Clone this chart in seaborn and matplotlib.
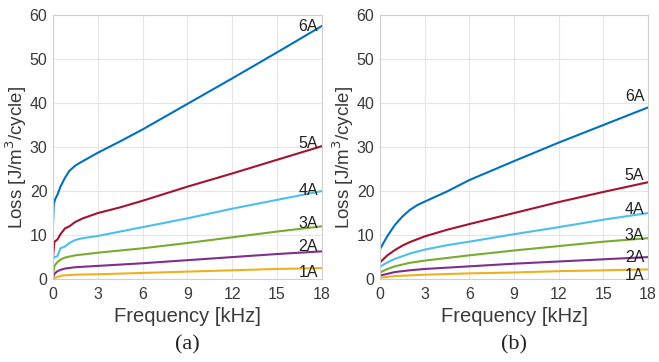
import numpy as np
import pandas as pd
import matplotlib
matplotlib.use("Agg")
import matplotlib.pyplot as plt
import seaborn as sns

# Panel (a): loss per cycle vs frequency for each current amplitude
freq_a = {
    "6A": [0, 0.05, 0.15, 0.3, 0.5, 0.8, 1.1, 1.5, 2.0, 3, 4.5, 6, 9, 12, 15, 18],
    "5A": [0, 0.1, 0.3, 0.5, 0.8, 1.1, 1.5, 2.0, 3, 4.5, 6, 9, 12, 15, 18],
    "4A": [0, 0.1, 0.3, 0.5, 0.8, 1.1, 1.5, 2.0, 3, 4.5, 6, 9, 12, 15, 18],
    "3A": [0, 0.1, 0.3, 0.5, 0.8, 1.5, 3, 6, 9, 12, 15, 18],
    "2A": [0, 0.1, 0.3, 0.5, 0.8, 1.5, 3, 6, 9, 12, 15, 18],
    "1A": [0, 0.1, 0.3, 0.6, 1.0, 1.5, 3, 6, 9, 12, 15, 18],
}
loss_a = {
    "6A": [12.5, 17.0, 18.2, 19.2, 21.0, 23.0, 24.6, 25.8, 26.8, 28.7, 31.3, 34.0, 39.8, 45.6, 51.5, 57.5],
    "5A": [5.0, 8.5, 9.0, 10.2, 11.5, 12.0, 13.0, 13.8, 15.0, 16.3, 17.8, 21.0, 24.0, 27.1, 30.2],
    "4A": [4.5, 5.0, 5.2, 7.0, 7.4, 8.2, 8.9, 9.3, 9.8, 10.8, 11.8, 13.8, 16.0, 18.0, 20.0],
    "3A": [1.0, 3.0, 3.9, 4.4, 4.9, 5.4, 6.0, 7.0, 8.2, 9.5, 10.8, 12.0],
    "2A": [0.3, 1.2, 1.8, 2.1, 2.4, 2.7, 3.0, 3.6, 4.3, 5.0, 5.7, 6.3],
    "1A": [0.0, 0.2, 0.5, 0.8, 0.9, 1.0, 1.1, 1.4, 1.7, 2.0, 2.3, 2.5],
}

# Panel (b)
freq_b = {
    "6A": [0, 0.5, 1, 1.5, 2, 2.5, 3, 4.5, 6, 9, 12, 15, 18],
    "5A": [0, 0.5, 1, 1.5, 2, 3, 4.5, 6, 9, 12, 15, 18],
    "4A": [0, 0.5, 1, 2, 3, 4.5, 6, 9, 12, 15, 18],
    "3A": [0, 0.5, 1, 2, 3, 6, 9, 12, 15, 18],
    "2A": [0, 0.5, 1, 2, 3, 6, 9, 12, 15, 18],
    "1A": [0, 1, 3, 6, 9, 12, 15, 18],
}
loss_b = {
    "6A": [6.8, 9.8, 12.3, 14.2, 15.7, 16.8, 17.6, 19.9, 22.5, 26.8, 31.0, 35.0, 39.0],
    "5A": [3.8, 5.4, 6.6, 7.6, 8.4, 9.7, 11.2, 12.5, 15.0, 17.5, 19.8, 22.0],
    "4A": [2.8, 3.8, 4.6, 5.8, 6.7, 7.7, 8.5, 10.2, 11.8, 13.5, 15.0],
    "3A": [1.5, 2.3, 2.9, 3.7, 4.2, 5.4, 6.5, 7.5, 8.5, 9.3],
    "2A": [0.8, 1.2, 1.6, 2.0, 2.3, 2.9, 3.5, 4.0, 4.5, 5.0],
    "1A": [0.3, 0.7, 1.0, 1.3, 1.5, 1.8, 2.0, 2.2],
}

currents = ["6A", "5A", "4A", "3A", "2A", "1A"]
colors = ["#0072BD", "#A2142F", "#4DBEEE", "#77AC30", "#7E2F8E", "#EDB120"]

# Label heights at the right end of each curve
label_y_a = [57.4, 30.9, 20.2, 12.7, 7.3, 1.6]
label_y_b = [41.4, 23.6, 15.9, 10.0, 5.0, 0.8]

x_ticks = [0, 3, 6, 9, 12, 15, 18]
y_ticks = [0, 10, 20, 30, 40, 50, 60]


def to_frame(freq, loss):
    rows = []
    for c in currents:
        for f, v in zip(freq[c], loss[c]):
            rows.append({"current": c, "freq": f, "loss": v})
    return pd.DataFrame(rows)


sns.set_theme(style="whitegrid")
plt.rcParams["font.family"] = ["Liberation Sans", "DejaVu Sans"]

fig = plt.figure(figsize=(6.59, 3.62), dpi=100)
ax_a = fig.add_axes([0.0804, 0.229, 0.408, 0.7296])
ax_b = fig.add_axes([0.5766, 0.229, 0.4067, 0.7296])

panels = [
    (ax_a, to_frame(freq_a, loss_a), label_y_a, "(a)"),
    (ax_b, to_frame(freq_b, loss_b), label_y_b, "(b)"),
]

text_col = "#3a3a3a"

for ax, df, label_y, tag in panels:
    sns.lineplot(data=df, x="freq", y="loss", hue="current", hue_order=currents,
                 palette=colors, linewidth=1.5, legend=False, ax=ax)
    ax.set_xlim(0, 18)
    ax.set_ylim(0, 60)
    ax.set_xticks(x_ticks)
    ax.set_yticks(y_ticks)
    ax.tick_params(axis="both", labelsize=11.5, colors=text_col, length=0)
    ax.tick_params(axis="x", pad=6)
    ax.tick_params(axis="y", pad=4)
    ax.grid(True, color="#e6e6e6", linewidth=0.8)
    for s in ax.spines.values():
        s.set_color("#cfcfcf")
        s.set_linewidth(0.8)
    ax.set_xlabel("Frequency [kHz]", fontsize=14.5, color=text_col)
    ax.xaxis.set_label_coords(0.5, -0.105)
    ax.set_ylabel("Loss [J/m$^3$/cycle]", fontsize=13.5, color=text_col)
    ax.yaxis.set_label_coords(-0.088, 0.46)
    for c, yv in zip(currents, label_y):
        ax.text(17.75, yv, c, ha="right", va="center", fontsize=11.5, color="#222222")
    ax.text(0.5, -0.25, tag, transform=ax.transAxes, ha="center", va="center",
            fontsize=16, family=["Liberation Serif", "DejaVu Serif"], color="#222222")

fig.savefig("out.png", dpi=100)
